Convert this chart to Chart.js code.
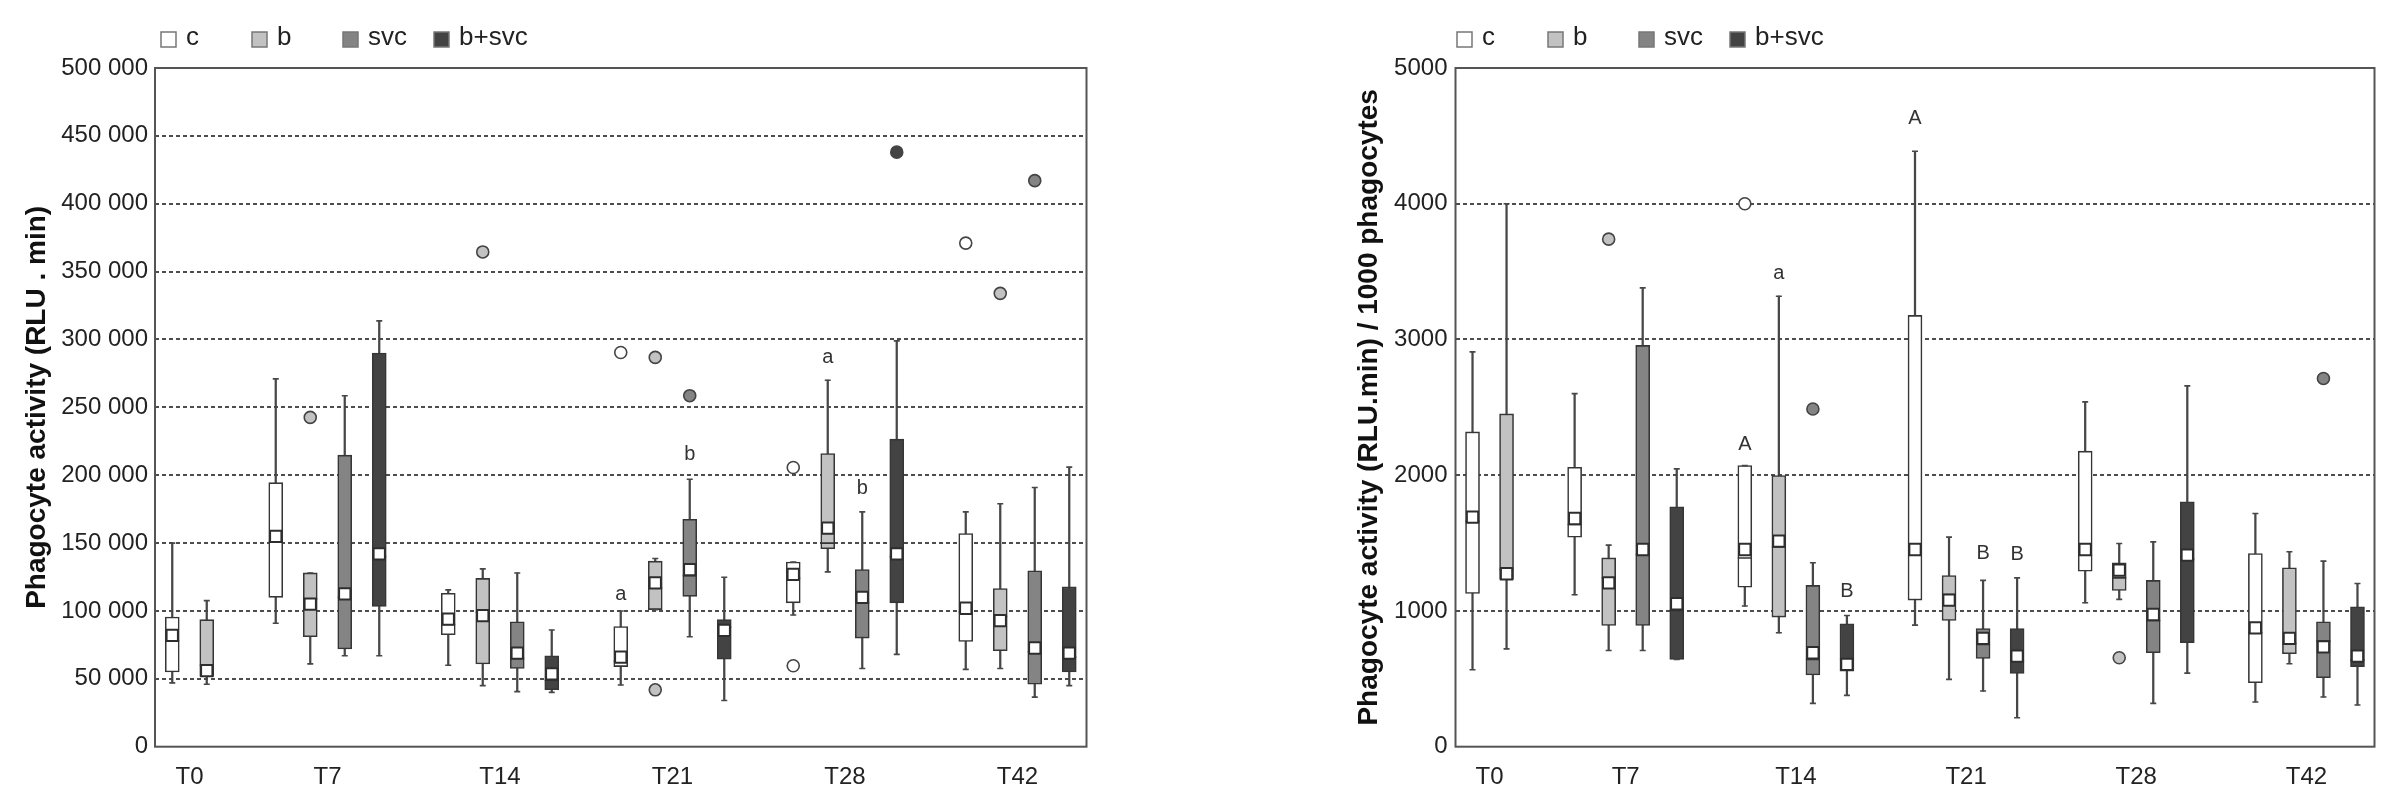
<!DOCTYPE html>
<html>
<head>
<meta charset="utf-8">
<title>Phagocyte activity</title>
<script src="https://cdn.jsdelivr.net/npm/chart.js@4.4.1/dist/chart.umd.min.js"></script>
<style>
    html, body { margin: 0; padding: 0; background: #fff; }
    #wrap { position: relative; width: 2400px; height: 799px; }
    .panel { position: absolute; top: 0; width: 1200px; height: 799px; }
</style>
</head>
<body>
<div id="wrap">
    <div class="panel" style="left:0"><canvas id="rluChart"></canvas></div>
    <div class="panel" style="left:1200px"><canvas id="cellChart"></canvas></div>
</div>
<script>
// Categories and groups
const timePoints = ["T0", "T7", "T14", "T21", "T28", "T42"];
const groupNames = ["c", "b", "svc", "b+svc"];
const groupColors = ["#ffffff", "#c2c2c2", "#848484", "#434343"];

// Each row: [whisker low, Q1, median, Q3, whisker high, mean], null = not measured
// Left panel: RLU . min
const rluC = [
    [47000, 55000, 78000, 95500, 150000, 82000],
    [91000, 110000, 151000, 194500, 271000, 155000],
    [60000, 82500, 90000, 113000, 115500, 94000],
    [45500, 59000, 63000, 88500, 100000, 66000],
    [97000, 106000, 124000, 136000, 136000, 127000],
    [57000, 77500, 99000, 157000, 173000, 102000]
];
const rluB = [
    [46000, 51700, 60000, 93600, 107600, 56000],
    [61000, 81000, 109000, 128000, 128000, 105000],
    [45000, 61000, 99000, 124000, 131000, 96500],
    [101000, 101000, 117000, 136700, 138700, 120700],
    [128800, 145800, 150000, 216000, 270000, 161000],
    [57600, 70700, 96000, 116500, 179000, 92900]
];
const rluSvc = [
    null,
    [67000, 72000, 110000, 214800, 258600, 112600],
    [40600, 57600, 65000, 92000, 128000, 69000],
    [81000, 110800, 126000, 167500, 197000, 130500],
    [57600, 80000, 106000, 130500, 173000, 110000],
    [36500, 46000, 70000, 129600, 191000, 72700]
];
const rluBSvc = [
    null,
    [67000, 103400, 140000, 290000, 313700, 142000],
    [40000, 42000, 49000, 67000, 86000, 53700],
    [34000, 64500, 88000, 93600, 124800, 85700],
    [68000, 106000, 140000, 226600, 299000, 142000],
    [45000, 55000, 66000, 117700, 206000, 69000]
];
// outliers: [time index, value]
const rluOutC = [[3, 290400], [4, 205700], [4, 59600], [5, 371000]];
const rluOutB = [[1, 242600], [2, 364500], [3, 286800], [3, 41900], [5, 334000]];
const rluOutSvc = [[3, 258600], [5, 417000]];
const rluOutBSvc = [[4, 438000]];
// letters: [time index, group index, text, height]
const rluLetters = [[3, 0, "a", 112000], [3, 2, "b", 215000], [4, 1, "a", 287000], [4, 2, "b", 190500]];
const rluTicks = [0, 50000, 100000, 150000, 200000, 250000, 300000, 350000, 400000, 450000, 500000];
const rluTickLabels = ["0", "50 000", "100 000", "150 000", "200 000", "250 000", "300 000", "350 000", "400 000", "450 000", "500 000"];

// Right panel: RLU.min / 1000 phagocytes
const cellC = [
    [567, 1129, 1660, 2319, 2909, 1691],
    [1119, 1543, 1637, 2059, 2601, 1681],
    [1036, 1175, 1390, 2071, 2071, 1453],
    [896, 1080, 1420, 3177, 4387, 1453],
    [1060, 1293, 1410, 2177, 2540, 1453],
    [329, 471, 839, 1423, 1718, 876]
];
const cellB = [
    [721, 1232, 1305, 2452, 4000, 1274],
    [709, 893, 1244, 1391, 1485, 1207],
    [839, 955, 1472, 1998, 3319, 1514],
    [496, 930, 1121, 1261, 1544, 1080],
    [1085, 1151, 1244, 1355, 1497, 1301],
    [611, 685, 760, 1318, 1436, 798]
];
const cellSvc = [
    null,
    [709, 893, 1416, 2956, 3380, 1453],
    [319, 528, 643, 1188, 1355, 692],
    [410, 650, 753, 871, 1225, 798],
    [319, 692, 930, 1225, 1509, 974],
    [366, 508, 778, 920, 1367, 736]
];
const cellBSvc = [
    null,
    [643, 643, 1004, 1767, 2047, 1053],
    [378, 557, 643, 906, 967, 606],
    [213, 540, 631, 871, 1244, 667],
    [542, 766, 1380, 1804, 2658, 1411],
    [307, 589, 640, 1031, 1202, 667]
];
const cellOutC = [[2, 4000]];
const cellOutB = [[1, 3739], [4, 655]];
const cellOutSvc = [[2, 2488], [5, 2713]];
const cellOutBSvc = [];
const cellLetters = [[2, 0, "A", 2229], [2, 1, "a", 3483], [2, 3, "B", 1147], [3, 0, "A", 4630], [3, 2, "B", 1421], [3, 3, "B", 1414]];
const cellTicks = [0, 1000, 2000, 3000, 4000, 5000];
const cellTickLabels = ["0", "1000", "2000", "3000", "4000", "5000"];

const FONT = '"Liberation Sans", Arial, sans-serif';
Chart.defaults.font.family = FONT;
Chart.defaults.color = "#2b2b2b";

// Boxes of one time point sit side by side, one empty slot between time points
function slotLayout(stats) {
    let start = 0;
    const pos = stats.map(() => []);
    const centers = [];
    timePoints.forEach((t, i) => {
        let n = 0;
        stats.forEach((series, g) => {
            if (series[i]) {
                pos[g][i] = start + n + 0.5;
                n++;
            } else {
                pos[g][i] = null;
            }
        });
        centers.push(start + n / 2);
        start += n + 1;
    });
    return {pos, centers, total: start - 1};
}

function buildDatasets(stats, outliers, layout) {
    const whiskers = [], caps = [], medians = [], means = [];
    const sets = [];

    stats.forEach((series, g) => {
        const boxData = [];
        series.forEach((s, i) => {
            if (!s) return;
            const x = layout.pos[g][i];
            whiskers.push({x, y: [s[0], s[4]]});
            caps.push({x, y: s[0]}, {x, y: s[4]});
            boxData.push({x, y: [s[1], s[3]]});
            medians.push({x, y: s[2]});
            means.push({x, y: s[5]});
        });
        sets.push({
            type: "bar", label: groupNames[g], data: boxData,
            backgroundColor: groupColors[g], borderColor: "#363636", borderWidth: 1.6,
            borderSkipped: false, barThickness: 14, maxBarThickness: 14, grouped: false, order: 3
        });
        sets.push({
            type: "scatter", label: groupNames[g] + " outliers",
            data: outliers[g].map(o => ({x: layout.pos[g][o[0]], y: o[1]})),
            pointStyle: "circle", pointRadius: 6, pointBackgroundColor: groupColors[g],
            pointBorderColor: "#444", pointBorderWidth: 1.6, order: 0
        });
    });

    sets.push({
        type: "bar", label: "whiskers", data: whiskers, backgroundColor: "#474747",
        borderWidth: 0, barThickness: 1.6, maxBarThickness: 1.6, grouped: false, order: 4
    });
    sets.push({
        type: "scatter", label: "caps", data: caps, pointStyle: "line", pointRadius: 3,
        pointBorderColor: "#474747", pointBorderWidth: 1.6, order: 2
    });
    sets.push({
        type: "scatter", label: "median", data: medians, pointStyle: "line", pointRadius: 7,
        pointBorderColor: "#333", pointBorderWidth: 1.6, order: 1
    });
    sets.push({
        type: "scatter", label: "mean", data: means, pointStyle: "rect", pointRadius: 8,
        pointBackgroundColor: "#ffffff", pointBorderColor: "#2e2e2e", pointBorderWidth: 2, order: 0
    });
    return sets;
}

// frame, legend row and significance letters
function overlayPlugin(cfg, layout) {
    return {
        id: "overlay",
        afterDraw(chart) {
            const {ctx, chartArea: a, scales: {x, y}} = chart;
            ctx.save();
            ctx.strokeStyle = "#555";
            ctx.lineWidth = 2;
            ctx.strokeRect(a.left, a.top, a.right - a.left, a.bottom - a.top);

            ctx.font = "26px " + FONT;
            ctx.textAlign = "left";
            ctx.textBaseline = "middle";
            groupNames.forEach((name, g) => {
                const lx = a.left + cfg.legendLeft + g * 91;
                ctx.fillStyle = groupColors[g];
                ctx.fillRect(lx, 32, 15, 15);
                ctx.strokeStyle = "#777";
                ctx.lineWidth = 1.5;
                ctx.strokeRect(lx, 32, 15, 15);
                ctx.fillStyle = "#222";
                ctx.fillText(name, lx + 25, 38);
            });

            ctx.font = "20px " + FONT;
            ctx.textAlign = "center";
            ctx.fillStyle = "#333";
            cfg.letters.forEach(([t, g, txt, v]) => {
                ctx.fillText(txt, x.getPixelForValue(layout.pos[g][t]), y.getPixelForValue(v));
            });
            ctx.restore();
        }
    };
}

function makeChart(canvasId, cfg) {
    const layout = slotLayout(cfg.stats);
    const yMax = cfg.ticks[cfg.ticks.length - 1];

    return new Chart(document.getElementById(canvasId), {
        type: "bar",
        data: {datasets: buildDatasets(cfg.stats, cfg.outliers, layout)},
        options: {
            responsive: true,
            maintainAspectRatio: false,
            animation: false,
            events: [],
            layout: {padding: {left: cfg.padLeft, right: cfg.padRight, top: 68, bottom: 0}},
            plugins: {legend: {display: false}, tooltip: {enabled: false}},
            scales: {
                x: {
                    type: "linear", min: 0, max: layout.total, offset: false,
                    grid: {display: false, offset: false},
                    border: {display: false},
                    afterBuildTicks: scale => { scale.ticks = layout.centers.map(v => ({value: v})); },
                    afterFit: scale => { scale.height = 52.3; },
                    ticks: {
                        autoSkip: false, maxRotation: 0, padding: 8,
                        font: {size: 24}, color: "#222",
                        callback: v => timePoints[layout.centers.indexOf(v)]
                    }
                },
                y: {
                    type: "linear", min: 0, max: yMax,
                    afterBuildTicks: scale => { scale.ticks = cfg.ticks.map(v => ({value: v})); },
                    afterFit: scale => { scale.width = cfg.axisWidth; },
                    grid: {
                        drawTicks: false, lineWidth: 2,
                        color: c => (c.tick && c.tick.value > 0 && c.tick.value < yMax) ? "#4d4d4d" : "rgba(0,0,0,0)"
                    },
                    border: {display: false, dash: [4, 3]},
                    ticks: {
                        padding: cfg.tickPad, font: {size: 24}, color: "#222",
                        callback: v => cfg.tickLabels[cfg.ticks.indexOf(v)]
                    },
                    title: {
                        display: true, text: cfg.title, padding: {top: 0, bottom: 0},
                        font: {size: 28, weight: "bold"}, color: "#111"
                    }
                }
            }
        },
        plugins: [overlayPlugin(cfg, layout)]
    });
}

makeChart("rluChart", {
    stats: [rluC, rluB, rluSvc, rluBSvc],
    outliers: [rluOutC, rluOutB, rluOutSvc, rluOutBSvc],
    letters: rluLetters,
    ticks: rluTicks,
    tickLabels: rluTickLabels,
    title: "Phagocyte activity (RLU . min)",
    padLeft: 20, padRight: 113.5, axisWidth: 135, tickPad: 7, legendLeft: 6
});

makeChart("cellChart", {
    stats: [cellC, cellB, cellSvc, cellBSvc],
    outliers: [cellOutC, cellOutB, cellOutSvc, cellOutBSvc],
    letters: cellLetters,
    ticks: cellTicks,
    tickLabels: cellTickLabels,
    title: "Phagocyte activity (RLU.min) / 1000 phagocytes",
    padLeft: 152, padRight: 25.5, axisWidth: 103.5, tickPad: 8, legendLeft: 1.5
});
</script>
</body>
</html>
